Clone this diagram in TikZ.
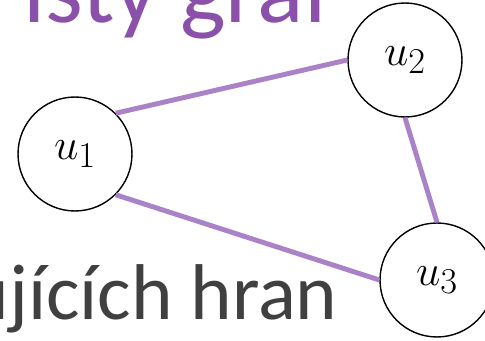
\documentclass[tikz,border=0pt]{standalone}
\usepackage{fontspec}
\setmainfont{Carlito}
\usetikzlibrary{positioning}
\definecolor{titlepurple}{RGB}{138,80,170}
\definecolor{edgepurple}{RGB}{170,130,200}
\definecolor{textgray}{RGB}{64,64,64}
\tikzset{
  vertex/.style ={circle, draw=black, line width=0.8pt, minimum size=2.28cm,
                  inner sep=0pt, font=\fontsize{28}{30}\selectfont},
  edge/.style   ={edgepurple, line width=2.8pt},
}

\begin{document}
\begin{tikzpicture}[x=0.02cm, y=-0.02cm,
  heading/.style={inner sep=0pt, titlepurple, font=\fontsize{55}{60}\selectfont},
  caption/.style={inner sep=0pt, textgray, font=\fontsize{45}{50}\selectfont}
]
\useasboundingbox (0,0) rectangle (485,341);
\clip (0,0) rectangle (485,341);

%--- Slide text around the graph ---
\node[heading, anchor=base east] (title) at (333,23) {isty graf};
\node[caption, anchor=base east] (text) at (338,320) {ujících hran};

%--- Vertices ---
\node[vertex] (u1) at (75,154) {$u_1$};
\node[vertex] (u2) at (405,60) {$u_2$};
\node[vertex] (u3) at (437,280) {$u_3$};

%--- Edges (attached to fixed anchors) ---
\draw[edge] (u1.north east) -- (u2.west);
\draw[edge] (u2.south) -- (u3.north);
\draw[edge] (u1.south east) -- (u3.west);

\end{tikzpicture}
\end{document}
